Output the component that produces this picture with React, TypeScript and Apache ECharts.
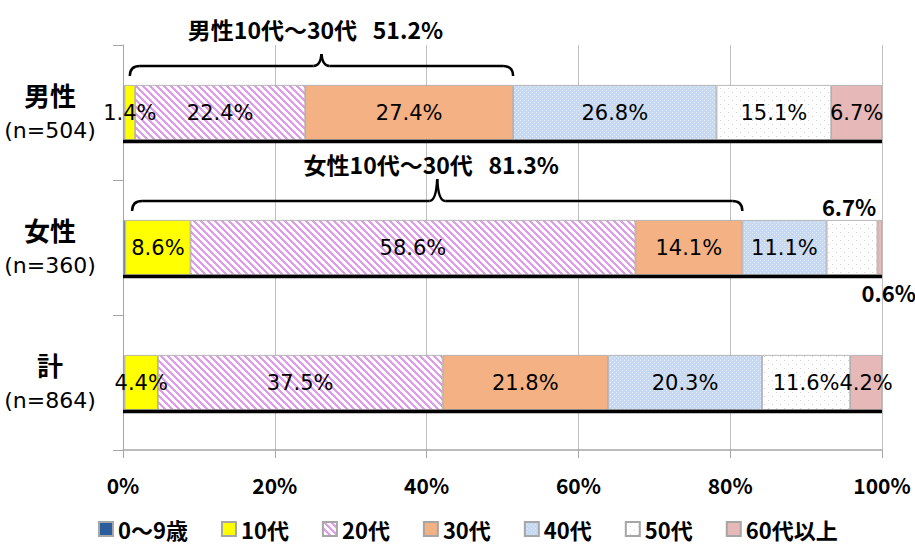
import React, { useEffect, useRef } from 'react';
import * as echarts from 'echarts';

// ---------- data ----------
const categories = ['男性', '女性', '計'];
const sampleSizes = ['(n=504)', '(n=360)', '(n=864)'];
const seriesNames = ['0～9歳', '10代', '20代', '30代', '40代', '50代', '60代以上'];
const age0to9 = [0.2, 0.3, 0.2];
const age10s = [1.4, 8.6, 4.4];
const age20s = [22.4, 58.6, 37.5];
const age30s = [27.4, 14.1, 21.8];
const age40s = [26.8, 11.1, 20.3];
const age50s = [15.1, 6.7, 11.6];
const age60plus = [6.7, 0.6, 4.2];
const xTickValues = [0, 20, 40, 60, 80, 100];
const bracketCategoryIndex = [0, 1];
const bracketTitles = ['男性10代～30代', '女性10代～30代'];
const bracketStart = [0.9, 1.2];

const valueArrays = [age0to9, age10s, age20s, age30s, age40s, age50s, age60plus];

// ---------- styles ----------
const BAR_W = 55;
const CJK = '"Noto Sans CJK JP", "Noto Sans", sans-serif';
const LATIN = '"DejaVu Sans", sans-serif';
const PEAKS = [12, 22];

function makePattern(size: number, bg: string, draw: (ctx: CanvasRenderingContext2D) => void) {
  const c = document.createElement('canvas');
  c.width = size;
  c.height = size;
  const ctx = c.getContext('2d') as CanvasRenderingContext2D;
  ctx.fillStyle = bg;
  ctx.fillRect(0, 0, size, size);
  draw(ctx);
  return { image: c, repeat: 'repeat', imageWidth: size, imageHeight: size };
}

export default function App() {
  const ref = useRef<HTMLDivElement>(null);

  useEffect(() => {
    document.body.style.margin = '0';
    if (!ref.current) return;
    const chart = echarts.init(ref.current, undefined, { renderer: 'svg' });

    const stripes = makePattern(7, '#ffffff', (ctx) => {
      ctx.fillStyle = '#E09CEB';
      for (let y = 0; y < 7; y++) {
        for (let x = 0; x < 7; x++) {
          if ((x - y + 14) % 7 < 3) ctx.fillRect(x, y, 1, 1);
        }
      }
    });
    const blueDots = makePattern(4, '#C6D9F1', (ctx) => {
      ctx.fillStyle = '#E3ECF8';
      ctx.fillRect(0, 0, 1, 1);
      ctx.fillRect(2, 2, 1, 1);
    });
    const whiteDots = makePattern(8, '#ffffff', (ctx) => {
      ctx.fillStyle = '#CFCFCF';
      ctx.fillRect(0, 0, 1, 1);
      ctx.fillRect(4, 4, 1, 1);
    });

    const fills: any[] = ['#2C5D9B', '#FFFF00', stripes, '#F4B183', blueDots, whiteDots, '#E6B9B8'];

    const specialLabel = {
      fontFamily: CJK,
      fontWeight: 'bold',
      fontSize: 22,
      color: '#000',
    };
    const overrides: Record<string, any> = {
      '5-1': { position: 'top', distance: 3, offset: [-3, 0], ...specialLabel },
      '6-1': { position: 'bottom', distance: 6, offset: [9, 0], ...specialLabel },
    };

    const barSeries = seriesNames.map((name, si) => ({
      name,
      type: 'bar',
      stack: 'total',
      barWidth: BAR_W,
      itemStyle: { color: fills[si], borderColor: '#A6A6A6', borderWidth: 0.8 },
      emphasis: { disabled: true },
      label: {
        show: si > 0,
        position: 'inside',
        color: '#000',
        fontFamily: LATIN,
        fontSize: 21,
        formatter: (p: any) => `${Number(p.value).toFixed(1)}%`,
      },
      data: valueArrays[si].map((v, ci) => {
        const o = overrides[`${si}-${ci}`];
        return o ? { value: v, label: o } : v;
      }),
      z: 2,
    }));

    const baseLines = {
      type: 'custom',
      silent: true,
      z: 5,
      encode: { x: [0, 1], y: 2 },
      data: categories.map((_, ci) => [0, 100, ci]),
      renderItem: (_params: any, api: any) => {
        const ci = api.value(2);
        const s = api.coord([api.value(0), ci]);
        const e = api.coord([api.value(1), ci]);
        const y = s[1] + BAR_W / 2 + 1.5;
        return {
          type: 'line',
          shape: { x1: s[0], y1: y, x2: e[0], y2: y },
          style: { stroke: '#000', lineWidth: 3.5, fill: 'none' },
        };
      },
    };

    const bracketData = bracketCategoryIndex.map((ci, bi) => {
      const end = age0to9[ci] + age10s[ci] + age20s[ci] + age30s[ci];
      return [bracketStart[bi], end, ci];
    });

    const brackets = {
      type: 'custom',
      silent: true,
      clip: false,
      z: 6,
      encode: { x: [0, 1], y: 2 },
      data: bracketData,
      renderItem: (params: any, api: any) => {
        const bi = params.dataIndex;
        const ci = api.value(2);
        const s = api.coord([api.value(0), ci]);
        const e = api.coord([api.value(1), ci]);
        const ci0 = bracketCategoryIndex[bi];
        const sum = age10s[ci0] + age20s[ci0] + age30s[ci0];
        const yh = s[1] - BAR_W / 2 - 19;
        const xs = s[0];
        const xe = e[0];
        const xc = (xs + xe) / 2;
        const pk = PEAKS[bi];
        const st = { stroke: '#000', lineWidth: 2.5, fill: 'none' };
        return {
          type: 'group',
          children: [
            { type: 'bezierCurve', shape: { x1: xs, y1: yh + 10, x2: xs + 10, y2: yh, cpx1: xs, cpy1: yh }, style: st },
            { type: 'line', shape: { x1: xs + 10, y1: yh, x2: xc - 8, y2: yh }, style: st },
            { type: 'bezierCurve', shape: { x1: xc - 8, y1: yh, x2: xc, y2: yh - pk, cpx1: xc - 1, cpy1: yh }, style: st },
            { type: 'bezierCurve', shape: { x1: xc + 8, y1: yh, x2: xc, y2: yh - pk, cpx1: xc + 1, cpy1: yh }, style: st },
            { type: 'line', shape: { x1: xc + 8, y1: yh, x2: xe - 10, y2: yh }, style: st },
            { type: 'bezierCurve', shape: { x1: xe - 10, y1: yh, x2: xe, y2: yh + 10, cpx1: xe, cpy1: yh }, style: st },
            {
              type: 'text',
              style: {
                text: `${bracketTitles[bi]}   ${sum.toFixed(1)}%`,
                x: xc - 6,
                y: yh - 37,
                align: 'center',
                verticalAlign: 'middle',
                fontFamily: CJK,
                fontWeight: 'bold',
                fontSize: 23,
                fill: '#000',
              },
            },
          ],
        };
      },
    };

    const option: any = {
      animation: false,
      grid: { left: 123, right: 33, top: 45, bottom: 100, containLabel: false },
      legend: {
        data: seriesNames,
        left: 93,
        top: 513,
        itemWidth: 14,
        itemHeight: 14,
        itemGap: 33,
        icon: 'rect',
        selectedMode: false,
        textStyle: { fontFamily: CJK, fontWeight: 'bold', fontSize: 22, color: '#000' },
      },
      xAxis: {
        type: 'value',
        min: xTickValues[0],
        max: xTickValues[xTickValues.length - 1],
        interval: xTickValues[1] - xTickValues[0],
        axisLine: { show: true, lineStyle: { color: '#A6A6A6', width: 1.5 } },
        axisTick: { show: true, length: 8, lineStyle: { color: '#A6A6A6' } },
        splitLine: { show: true, lineStyle: { color: '#BFBFBF', width: 1 } },
        axisLabel: {
          formatter: '{value}%',
          fontFamily: CJK,
          fontWeight: 'bold',
          fontSize: 21,
          color: '#000',
          margin: 24,
        },
      },
      yAxis: {
        type: 'category',
        data: categories,
        inverse: true,
        axisLine: { show: true, lineStyle: { color: '#A6A6A6', width: 1 } },
        axisTick: { show: true, length: 10, lineStyle: { color: '#A6A6A6' } },
        axisLabel: {
          align: 'center',
          margin: 73,
          formatter: (v: string, i: number) => `{a|${v}}\n{b|${sampleSizes[i]}}`,
          rich: {
            a: { fontFamily: CJK, fontWeight: 'bold', fontSize: 26, lineHeight: 36, color: '#000' },
            b: { fontFamily: LATIN, fontSize: 22, lineHeight: 36, color: '#000' },
          },
        },
      },
      series: [...barSeries, baseLines, brackets],
    };

    chart.setOption(option);
    return () => chart.dispose();
  }, []);

  return <div ref={ref} style={{ width: 915, height: 550 }} />;
}
